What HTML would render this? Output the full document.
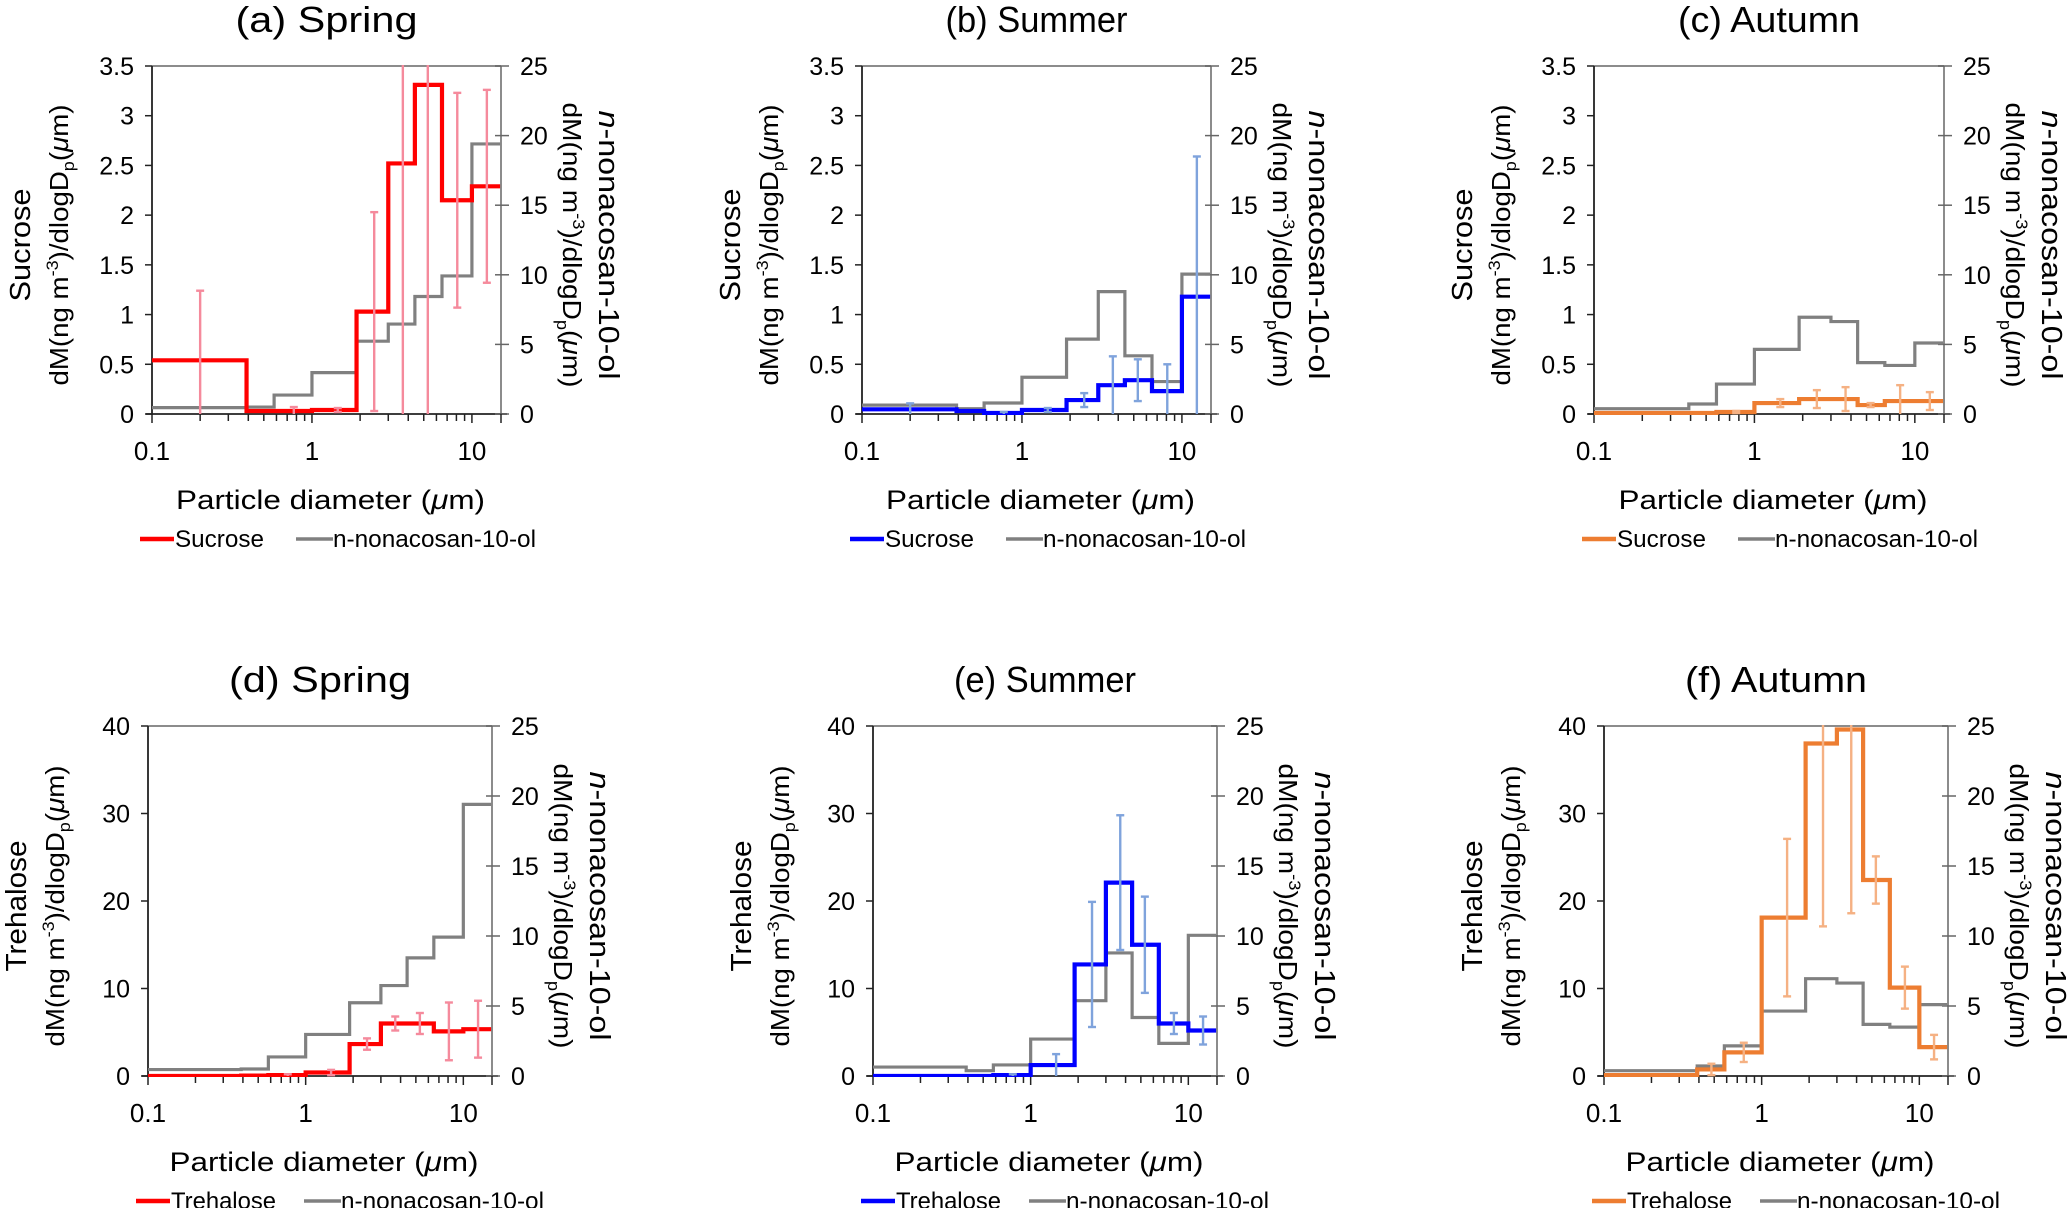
<!DOCTYPE html>
<html><head><meta charset="utf-8">
<style>
html,body{margin:0;padding:0;background:#fff;}
svg{display:block;font-family:"Liberation Sans",Arial,sans-serif;}
</style></head>
<body>
<svg id="fig" width="2067" height="1208" viewBox="0 0 2067 1208" xmlns="http://www.w3.org/2000/svg"></svg>
<script>
// ---- shared data ----
const binEdges = [0.1, 0.39, 0.58, 1.0, 1.9, 3.0, 4.4, 6.5, 10, 15];
const errX = [0.2, 0.48, 0.77, 1.45, 2.45, 3.7, 5.3, 8.1, 12.4];
const xTicks = [0.1, 1, 10];
const xTickLabels = ["0.1", "1", "10"];
const sucTicks = [0, 0.5, 1, 1.5, 2, 2.5, 3, 3.5];
const sucTickLabels = ["0", "0.5", "1", "1.5", "2", "2.5", "3", "3.5"];
const treTicks = [0, 10, 20, 30, 40];
const treTickLabels = ["0", "10", "20", "30", "40"];
const rightTicks = [0, 5, 10, 15, 20, 25];
const rightTickLabels = ["0", "5", "10", "15", "20", "25"];

// ---- series ----
const sucSpring = [0.54, 0.03, 0.03, 0.04, 1.03, 2.52, 3.31, 2.15, 2.29];
const sucSpringErr = [0.70, 0, 0.04, 0.02, 1.0, 2.8, 3.4, 1.08, 0.97];
const sucSummer = [0.047, 0.03, 0.01, 0.04, 0.14, 0.29, 0.34, 0.23, 1.18];
const sucSummerErr = [0.06, 0, 0.01, 0.02, 0.07, 0.29, 0.21, 0.27, 1.41];
const sucAutumn = [0.01, 0.01, 0.02, 0.11, 0.15, 0.15, 0.09, 0.13, 0.13];
const sucAutumnErr = [0, 0, 0.01, 0.04, 0.09, 0.12, 0.02, 0.16, 0.09];
const treSpring = [0, 0.05, 0.1, 0.4, 3.65, 6.0, 6.0, 5.1, 5.35];
const treSpringErr = [0, 0, 0.1, 0.3, 0.65, 0.8, 1.2, 3.3, 3.25];
const treSummer = [0, 0, 0.1, 1.25, 12.75, 22.1, 15.0, 6.0, 5.2];
const treSummerErr = [0, 0, 0.1, 1.25, 7.15, 7.7, 5.5, 1.2, 1.6];
const treAutumn = [0.1, 0.75, 2.7, 18.1, 38.0, 39.6, 22.4, 10.1, 3.3];
const treAutumnErr = [0, 0.65, 1.1, 9.0, 20.9, 21.0, 2.7, 2.4, 1.4];
const nonaSpring = [0.46, 0.5, 1.36, 2.97, 5.23, 6.46, 8.44, 9.92, 19.4];
const nonaSummer = [0.64, 0.38, 0.79, 2.64, 5.38, 8.79, 4.18, 2.33, 10.05];
const nonaAutumn = [0.38, 0.72, 2.15, 4.64, 6.95, 6.64, 3.69, 3.49, 5.1];

const NS = "http://www.w3.org/2000/svg";
const svg = document.getElementById("fig");
function mk(tag, attrs, parent) {
  const e = document.createElementNS(NS, tag);
  for (const k in attrs) e.setAttribute(k, attrs[k]);
  (parent || svg).appendChild(e);
  return e;
}

const panels = [
  {id:"a", title:"(a) Spring", L:152, R:501, T:66, B:414, main:"Sucrose", ymax:3.5, yt:sucTicks, ytl:sucTickLabels, vals:sucSpring, err:sucSpringErr, gray:nonaSpring, col:"#ff0000", ecol:"#f58a9c"},
  {id:"b", title:"(b) Summer", L:862, R:1211, T:66, B:414, main:"Sucrose", ymax:3.5, yt:sucTicks, ytl:sucTickLabels, vals:sucSummer, err:sucSummerErr, gray:nonaSummer, col:"#0000ff", ecol:"#7fa3dc"},
  {id:"c", title:"(c) Autumn", L:1594, R:1944, T:66, B:414, main:"Sucrose", ymax:3.5, yt:sucTicks, ytl:sucTickLabels, vals:sucAutumn, err:sucAutumnErr, gray:nonaAutumn, col:"#ed7d31", ecol:"#f5b183"},
  {id:"d", title:"(d) Spring", L:148, R:492, T:726, B:1076, main:"Trehalose", ymax:40, yt:treTicks, ytl:treTickLabels, vals:treSpring, err:treSpringErr, gray:nonaSpring, col:"#ff0000", ecol:"#f58a9c"},
  {id:"e", title:"(e) Summer", L:873, R:1217, T:726, B:1076, main:"Trehalose", ymax:40, yt:treTicks, ytl:treTickLabels, vals:treSummer, err:treSummerErr, gray:nonaSummer, col:"#0000ff", ecol:"#7fa3dc"},
  {id:"f", title:"(f) Autumn", L:1604, R:1948, T:726, B:1076, main:"Trehalose", ymax:40, yt:treTicks, ytl:treTickLabels, vals:treAutumn, err:treAutumnErr, gray:nonaAutumn, col:"#ed7d31", ecol:"#f5b183"}
];

const XMIN = 0.1, XMAX = 15.2;
const UNIT = 'dM(ng m<tspan font-size="17" dy="-10">-3</tspan><tspan dy="10">)/dlogD</tspan><tspan font-size="17" dy="6">p</tspan><tspan dy="-6">(</tspan><tspan font-style="italic">μ</tspan>m)';

panels.forEach(p => {
  const g = mk("g", {});
  
  
  const xs = v => p.L + (Math.log10(v) - Math.log10(XMIN)) / (Math.log10(XMAX) - Math.log10(XMIN)) * (p.R - p.L);
  const yl = v => p.B - v / p.ymax * (p.B - p.T);
  const yr = v => p.B - v / 25 * (p.B - p.T);
  const cx = (p.L + p.R) / 2, cy = (p.T + p.B) / 2;

  const clip = mk("clipPath", {id:"clip" + p.id}, g);
  mk("rect", {x:p.L, y:p.T - 1, width:p.R - p.L + 2, height:p.B - p.T + 2}, clip);

  const t = mk("text", {x:cx, y:p.T - 34, "text-anchor":"middle", "font-size":36, fill:"#000", textLength:182, lengthAdjust:"spacingAndGlyphs"}, g);
  t.textContent = p.title;
  
  

  const top = mk("line", {x1:p.L, y1:p.T, x2:p.R, y2:p.T, stroke:"#8c8c8c", "stroke-width":2}, g);
  
  
  const ra = mk("line", {x1:p.R, y1:p.T, x2:p.R, y2:p.B, stroke:"#666", "stroke-width":1.5}, g);
  
  
  const la = mk("line", {x1:p.L, y1:p.T, x2:p.L, y2:p.B + 1, stroke:"#222", "stroke-width":1.8}, g);
  
  
  const ba = mk("line", {x1:p.L - 6, y1:p.B, x2:p.R + 6, y2:p.B, stroke:"#222", "stroke-width":1.8}, g);
  
  

  p.yt.forEach((v, i) => {
    const y = yl(v);
    mk("line", {x1:p.L - 7, y1:y, x2:p.L, y2:y, stroke:"#222", "stroke-width":1.5}, g);
    const tl = mk("text", {x:p.L - 18, y:y + 9, "text-anchor":"end", "font-size":25, fill:"#000"}, g);
    tl.textContent = p.ytl[i];
    
    
  });
  rightTicks.forEach((v, i) => {
    const y = yr(v);
    mk("line", {x1:p.R - 6, y1:y, x2:p.R + 8, y2:y, stroke:"#666", "stroke-width":1.5}, g);
    const tl = mk("text", {x:p.R + 19, y:y + 9, "text-anchor":"start", "font-size":25, fill:"#000"}, g);
    tl.textContent = rightTickLabels[i];
    
    
  });
  for (let dec = 0.1; dec < 20; dec *= 10) {
    for (let m = 1; m <= 9; m++) {
      const v = dec * m;
      if (v < XMIN - 1e-9 || v > XMAX) continue;
      const x = xs(v);
      mk("line", {x1:x, y1:p.B, x2:x, y2:p.B + (m === 1 ? 9 : 7), stroke:"#222", "stroke-width":1.5}, g);
    }
  }
  mk("line", {x1:p.R, y1:p.B, x2:p.R, y2:p.B + 9, stroke:"#222", "stroke-width":1.5}, g);
  xTicks.forEach((v, i) => {
    const tl = mk("text", {x:xs(v), y:p.B + 46, "text-anchor":"middle", "font-size":26, fill:"#000"}, g);
    tl.textContent = xTickLabels[i];
    
    
  });

  const xt = mk("text", {x:cx + 4, y:p.B + 95, "text-anchor":"middle", "font-size":27, fill:"#000", textLength:309, lengthAdjust:"spacingAndGlyphs"}, g);
  xt.innerHTML = 'Particle diameter (<tspan font-style="italic">μ</tspan>m)';
  
  

  const ly1 = mk("text", {x:0, y:0, "text-anchor":"middle", "font-size":29, fill:"#000", transform:`translate(${p.L - 122},${cy + 5}) rotate(-90)`, textLength:(p.main === "Sucrose" ? 113 : 131), lengthAdjust:"spacingAndGlyphs"}, g);
  ly1.textContent = p.main;
  
  
  const ly2 = mk("text", {x:0, y:0, "text-anchor":"middle", "font-size":26, fill:"#000", transform:`translate(${p.L - 84},${cy + 5}) rotate(-90)`, textLength:281, lengthAdjust:"spacingAndGlyphs"}, g);
  ly2.innerHTML = UNIT;
  
  

  const ry1 = mk("text", {x:0, y:0, "text-anchor":"middle", "font-size":29, fill:"#000", transform:`translate(${p.R + 98},${cy + 5}) rotate(90)`, textLength:269, lengthAdjust:"spacingAndGlyphs"}, g);
  ry1.innerHTML = '<tspan font-style="italic">n</tspan>-nonacosan-10-ol';
  
  
  const ry2 = mk("text", {x:0, y:0, "text-anchor":"middle", "font-size":26, fill:"#000", transform:`translate(${p.R + 62},${cy + 5}) rotate(90)`, textLength:285, lengthAdjust:"spacingAndGlyphs"}, g);
  ry2.innerHTML = UNIT;
  
  

  const plot = mk("g", {"clip-path":`url(#clip${p.id})`}, g);
  function stepPath(vals, yf) {
    let d = "";
    vals.forEach((v, i) => {
      const x0 = xs(binEdges[i]), x1 = xs(binEdges[i + 1]), y = yf(v);
      d += (i === 0 ? `M${x0},${y}` : `V${y}`) + `H${x1}`;
    });
    return d;
  }
  const gp = mk("path", {d:stepPath(p.gray, yr), fill:"none", stroke:"#808080", "stroke-width":3.2}, plot);
  
  
  const cp = mk("path", {d:stepPath(p.vals, yl), fill:"none", stroke:p.col, "stroke-width":4.2}, plot);
  
  
  p.vals.forEach((v, i) => {
    const e = p.err[i];
    if (!(e > 0)) return;
    const x = xs(errX[i]);
    const hi = v + e, lo = Math.max(0, v - e);
    const eg = mk("g", {stroke:p.ecol, "stroke-width":2.4}, plot);
    
    
    mk("line", {x1:x, y1:yl(hi), x2:x, y2:yl(lo)}, eg);
    if (hi <= p.ymax) mk("line", {x1:x - 4, y1:yl(hi), x2:x + 4, y2:yl(hi)}, eg);
    if (v - e > 0) mk("line", {x1:x - 4, y1:yl(lo), x2:x + 4, y2:yl(lo)}, eg);
  });

  const ly = p.B + 133;
  const lx = p.L - 12;
  const lg = mk("g", {}, g);
  
  
  mk("line", {x1:lx, y1:ly - 8, x2:lx + 34, y2:ly - 8, stroke:p.col, "stroke-width":4.5}, lg);
  const lt1 = mk("text", {x:lx + 35, y:ly, "font-size":24, fill:"#000", textLength:(p.main === "Sucrose" ? 89 : 105), lengthAdjust:"spacingAndGlyphs"}, lg);
  lt1.textContent = p.main;
  
  
  const gx = lx + (p.main === "Sucrose" ? 156 : 168);
  mk("line", {x1:gx, y1:ly - 8, x2:gx + 37, y2:ly - 8, stroke:"#808080", "stroke-width":3.5}, lg);
  const lt2 = mk("text", {x:gx + 37, y:ly, "font-size":24, fill:"#000", textLength:203, lengthAdjust:"spacingAndGlyphs"}, lg);
  lt2.textContent = "n-nonacosan-10-ol";
  
  
});
</script>
</body></html>
